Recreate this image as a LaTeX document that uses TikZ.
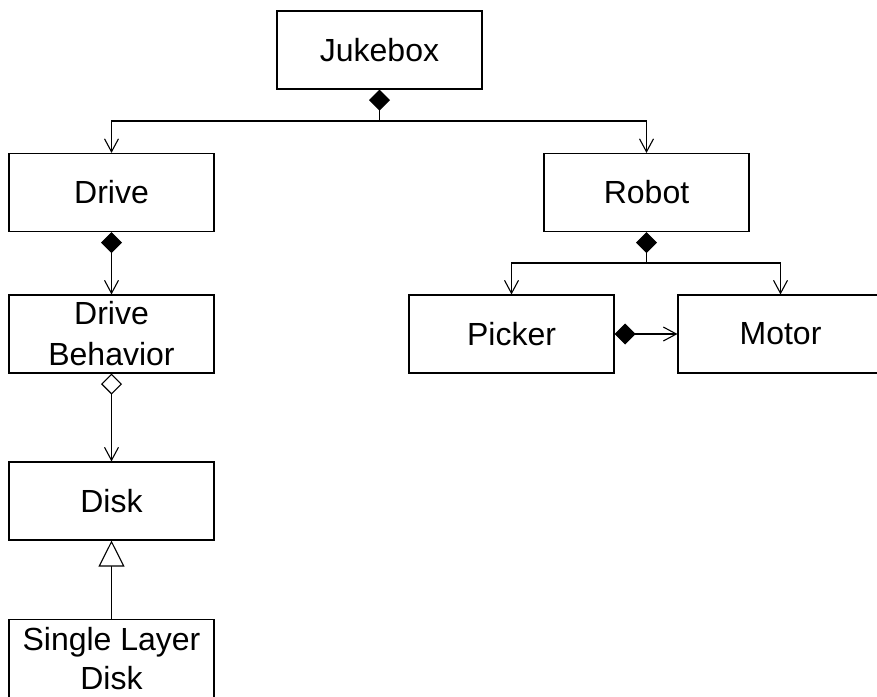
\documentclass[tikz,border=0pt]{standalone}
\usepackage{fontspec}
\setmainfont{Liberation Sans}
\usetikzlibrary{arrows.meta}

\tikzset{
  umlclass/.style={draw, line width=1.1pt, minimum width=205pt, minimum height=78pt,
    inner sep=0pt, align=center, font=\fontsize{32}{41}\selectfont},
  link/.style={line width=1.1pt},
  compose/.style={{Diamond[length=21pt,width=21pt]}-{Straight Barb[length=13pt,width=14pt]}},
  aggregate/.style={{Diamond[open,length=21pt,width=21pt,fill=white]}-{Straight Barb[length=13pt,width=14pt]}},
  startcompose/.style={{Diamond[length=21pt,width=21pt]}-},
  barbend/.style={-{Straight Barb[length=13pt,width=14pt]}},
  inherits/.style={-{Triangle[open,length=26pt,width=26pt,fill=white]}}
}

\begin{document}
\begin{tikzpicture}[x=1pt, y=-1pt, line join=miter]
  \useasboundingbox (0,0) rectangle (877,696);

  % classes
  \node[umlclass] (jukebox) at (379.5,50)    {Jukebox};
  \node[umlclass] (drive)   at (111.5,192.5) {Drive};
  \node[umlclass] (robot)   at (646.5,192.5) {Robot};
  \node[umlclass] (behav)   at (111.5,334)   {Drive\\Behavior};
  \node[umlclass] (disk)    at (111.5,501)   {Disk};
  \node[umlclass] (single)  at (111.5,658.5) {Single Layer\\[-2pt]Disk};
  \node[umlclass] (picker)  at (511.5,334)   {Picker};
  \node[umlclass] (motor)   at (780.5,334)   {Motor};

  % branch points
  \coordinate (jfork) at (379.5,121);
  \coordinate (rfork) at (646.5,263);

  % Jukebox composition
  \draw[link, startcompose] (jukebox.south) -- (jfork);
  \draw[link, barbend] (jfork) -| (drive.north);
  \draw[link, barbend] (jfork) -| (robot.north);

  % Robot composition
  \draw[link, startcompose] (robot.south) -- (rfork);
  \draw[link, barbend] (rfork) -| (picker.north);
  \draw[link, barbend] (rfork) -| (motor.north);

  % Drive chain
  \draw[link, compose] (drive.south) -- (behav.north);
  \draw[link, aggregate] (behav.south) -- (disk.north);
  \draw[link, inherits] (single.north) -- (disk.south);

  % Picker uses Motor
  \draw[link, compose] (picker.east) -- (motor.west);
\end{tikzpicture}
\end{document}
